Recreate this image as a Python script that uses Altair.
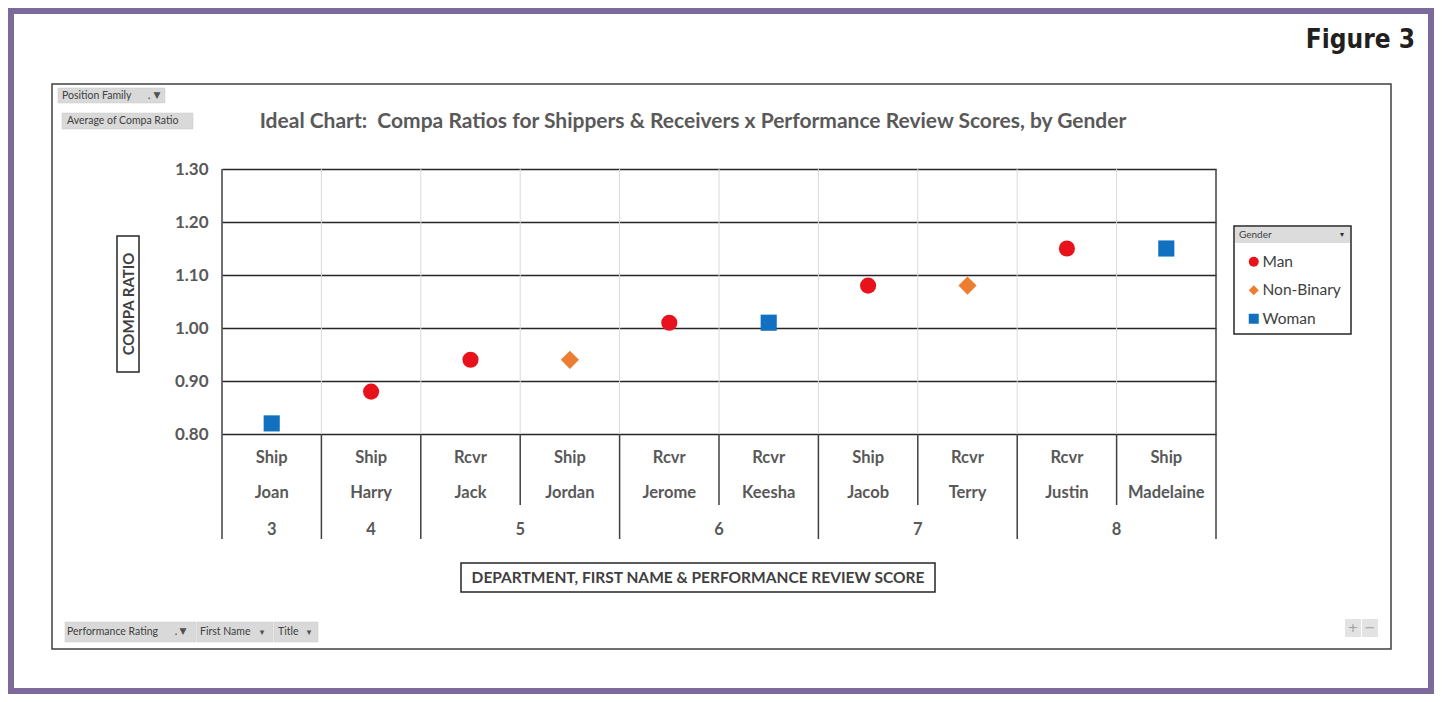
import altair as alt
import pandas as pd

# ---------------- data ----------------
names = ["Joan", "Harry", "Jack", "Jordan", "Jerome", "Keesha", "Jacob", "Terry", "Justin", "Madelaine"]
depts = ["Ship", "Ship", "Rcvr", "Ship", "Rcvr", "Rcvr", "Ship", "Rcvr", "Rcvr", "Ship"]
scores = [3, 4, 5, 5, 6, 6, 7, 7, 8, 8]
genders = ["Woman", "Man", "Man", "Non-Binary", "Man", "Woman", "Man", "Non-Binary", "Man", "Woman"]
ratios = [0.82, 0.88, 0.94, 0.94, 1.01, 1.01, 1.08, 1.08, 1.15, 1.15]
gender_order = ["Man", "Non-Binary", "Woman"]
gender_colors = ["#E8121C", "#ED7D31", "#1170C0"]
gender_shapes = ["circle", "diamond", "square"]
y_ticks = [0.80, 0.90, 1.00, 1.10, 1.20, 1.30]

df = pd.DataFrame({"name": names, "dept": depts, "score": scores,
                   "gender": genders, "ratio": ratios})
df["pos"] = [i + 0.5 for i in range(len(df))]
grp = df.groupby("score", as_index=False)["pos"].mean()
grp["label"] = grp["score"].astype(str)

n = len(df)
bkind = []
for b in range(n + 1):
    if b == 0 or b == n:
        bkind.append("edge")
    elif scores[b - 1] != scores[b]:
        bkind.append("group")
    else:
        bkind.append("inner")
bounds = pd.DataFrame({"b": list(range(n + 1)), "kind": bkind})

# ---------------- layout helpers ----------------
OX, OY = 222, 169          # page position of plot origin
W, H = 994, 265
FONT = "Lato"
GREY = "#595959"
DARK = "#404040"


def gx(p):
    return p - OX


def gy(p):
    return p - OY


one = pd.DataFrame({"k": [0]})


def box(x1, y1, x2, y2, **kw):
    return alt.Chart(one).mark_rect(**kw).encode(
        x=alt.value(gx(x1)), x2=alt.value(gx(x2)),
        y=alt.value(gy(y1)), y2=alt.value(gy(y2)))


def label(text, px, py, **kw):
    return alt.Chart(pd.DataFrame({"t": [text]})).mark_text(**kw).encode(
        x=alt.value(gx(px)), y=alt.value(gy(py)), text="t:N")


xscale = alt.Scale(domain=[0, n], nice=False, zero=False)
yscale = alt.Scale(domain=[0.8, 1.3], nice=False, zero=False)

# ---------------- decorations ----------------
frame = alt.Chart(one).mark_rect(fillOpacity=0, stroke="#7B6A9B", strokeWidth=6).encode(
    x=alt.value(-211), x2=alt.value(1209), y=alt.value(-158), y2=alt.value(522))
chart_box = box(52, 84, 1391, 649, fillOpacity=0, stroke=DARK, strokeWidth=1.5)

fig_label = label("Figure 3", 1415, 48, align="right", baseline="alphabetic",
                  font="DejaVu Sans Condensed, Roboto Condensed, Liberation Sans Narrow, Roboto, sans-serif",
                  fontSize=26, fontWeight="bold", color="#231F20")

btn_style = dict(fill="#D9D9D9", stroke="#C8C8C8", strokeWidth=0.5)
btns = [
    box(58, 88, 165, 103, **btn_style),
    label("Position Family", 62, 96, align="left", baseline="middle", font=FONT, fontSize=10.5, color=DARK),
    label(".", 149, 96, align="center", baseline="middle", font=FONT, fontSize=11, color=DARK),
    label("▼", 157, 95, align="center", baseline="middle", font="DejaVu Sans", fontSize=9, color="#505050"),
    box(62, 113, 193, 129, **btn_style),
    label("Average of Compa Ratio", 67, 121, align="left", baseline="middle", font=FONT, fontSize=10.5, color=DARK),
    box(65, 622, 196, 642, **btn_style),
    box(197, 622, 273, 642, **btn_style),
    box(274, 622, 318, 642, **btn_style),
    label("Performance Rating", 67, 632, align="left", baseline="middle", font=FONT, fontSize=10.5, color=DARK),
    label(".", 176, 632, align="center", baseline="middle", font=FONT, fontSize=11, color=DARK),
    label("▼", 183, 631, align="center", baseline="middle", font="DejaVu Sans", fontSize=9, color="#505050"),
    label("First Name", 200, 632, align="left", baseline="middle", font=FONT, fontSize=10.5, color=DARK),
    label("▾", 262, 632, align="center", baseline="middle", font="DejaVu Sans", fontSize=9, color="#505050"),
    label("Title", 278, 632, align="left", baseline="middle", font=FONT, fontSize=10.5, color=DARK),
    label("▾", 309, 632, align="center", baseline="middle", font="DejaVu Sans", fontSize=9, color="#505050"),
    box(1345, 619, 1361, 637, fill="#E3E3E3"),
    box(1362, 619, 1378, 637, fill="#E3E3E3"),
    label("+", 1353, 628, align="center", baseline="middle", font="DejaVu Sans", fontSize=13, color="#A0A0A0"),
    label("−", 1370, 628, align="center", baseline="middle", font="DejaVu Sans", fontSize=13, color="#A0A0A0"),
]

title = label("Ideal Chart:\u00a0 Compa Ratios for Shippers & Receivers x Performance Review Scores, by Gender",
              693, 122, align="center", baseline="middle", font=FONT, fontSize=21,
              fontWeight="bold", color=GREY)

ytitle_box = box(117, 236, 139, 372, fillOpacity=0, stroke="#262626", strokeWidth=1.5)
ytitle = label("COMPA RATIO", 128.5, 304, align="center", baseline="middle", angle=270,
               font=FONT, fontSize=15, fontWeight="bold", color=DARK)
xtitle_box = box(461, 563, 935, 592, fillOpacity=0, stroke="#262626", strokeWidth=1.5)
xtitle = label("DEPARTMENT, FIRST NAME & PERFORMANCE REVIEW SCORE", 698, 578, align="center",
               baseline="middle", font=FONT, fontSize=15.5, fontWeight="bold", color=DARK)

leg_box = box(1234, 226, 1351, 334, fill="white", stroke="#262626", strokeWidth=1.5)
leg_head = box(1235, 227, 1350, 243, fill="#DCDCDC")
leg_title = label("Gender", 1239, 235, align="left", baseline="middle", font=FONT, fontSize=10, color=DARK)
leg_arrow = label("▾", 1342, 235, align="center", baseline="middle", font="DejaVu Sans", fontSize=8, color="#303030")

# ---------------- plot structure ----------------
inner_grid = alt.Chart(bounds).transform_filter("datum.kind != 'edge'").mark_rule(
    color="#D9D9D9", strokeWidth=1).encode(
    x=alt.X("b:Q", scale=xscale, axis=None), y=alt.value(0), y2=alt.value(H))
sep_group = alt.Chart(bounds).transform_filter("datum.kind == 'group'").mark_rule(
    color=DARK, strokeWidth=1.5).encode(
    x=alt.X("b:Q", scale=xscale, axis=None), y=alt.value(H), y2=alt.value(gy(539)))
sep_inner = alt.Chart(bounds).transform_filter("datum.kind == 'inner'").mark_rule(
    color=DARK, strokeWidth=1.5).encode(
    x=alt.X("b:Q", scale=xscale, axis=None), y=alt.value(H), y2=alt.value(gy(505)))
sep_edge = alt.Chart(bounds).transform_filter("datum.kind == 'edge'").mark_rule(
    color=DARK, strokeWidth=1.5).encode(
    x=alt.X("b:Q", scale=xscale, axis=None), y=alt.value(0), y2=alt.value(gy(539)))

legend = alt.Legend(title=None, orient="none", legendX=gx(1246), legendY=gy(254),
                    direction="vertical", labelFont=FONT, labelFontSize=15.5, labelColor=DARK,
                    symbolSize=100, symbolStrokeWidth=0, rowPadding=11.5, labelOffset=1,
                    padding=0, zindex=1)

y_enc = alt.Y("ratio:Q", scale=yscale,
              axis=alt.Axis(values=y_ticks, format=".2f", title=None, domain=False, ticks=False,
                            grid=True, gridColor="#262626", gridWidth=1.4, gridOpacity=1,
                            labelFont=FONT, labelFontSize=17, labelFontWeight="bold",
                            labelColor=GREY, labelPadding=14))
c_enc = alt.Color("gender:N", scale=alt.Scale(domain=gender_order, range=gender_colors), legend=legend)
s_enc = alt.Shape("gender:N", scale=alt.Scale(domain=gender_order, range=gender_shapes), legend=legend)
x_enc = alt.X("pos:Q", scale=xscale, axis=None)

points_main = alt.Chart(df).transform_filter("datum.gender != 'Non-Binary'").mark_point(
    filled=True, opacity=1, size=260).encode(x=x_enc, y=y_enc, color=c_enc, shape=s_enc)
points_diamond = alt.Chart(df).transform_filter("datum.gender == 'Non-Binary'").mark_point(
    filled=True, opacity=1, size=330).encode(x=x_enc, y=y_enc, color=c_enc, shape=s_enc)

row_style = dict(align="center", baseline="middle", font=FONT, fontSize=16.5,
                 fontWeight="bold", color=GREY)
dept_text = alt.Chart(df).mark_text(**row_style).encode(
    x=x_enc, y=alt.value(gy(458)), text="dept:N")
name_text = alt.Chart(df).mark_text(**row_style).encode(
    x=x_enc, y=alt.value(gy(493)), text="name:N")
score_text = alt.Chart(grp).mark_text(**row_style).encode(
    x=x_enc, y=alt.value(gy(530)), text="label:N")

chart = alt.layer(
    frame, chart_box, *btns, fig_label, title,
    ytitle_box, ytitle, xtitle_box, xtitle,
    leg_box, leg_head, leg_title, leg_arrow,
    inner_grid, sep_group, sep_inner, sep_edge,
    points_main, points_diamond, dept_text, name_text, score_text,
).properties(
    width=W, height=H,
    autosize=alt.AutoSizeParams(type="none"),
    padding={"left": OX - 8, "top": OY - 8, "right": 1426 - (OX - 8) - W, "bottom": 686 - (OY - 8) - H},
    background="white",
).configure_view(stroke=None)

chart.save("out.html", embed_options={"renderer": "svg", "actions": False})
